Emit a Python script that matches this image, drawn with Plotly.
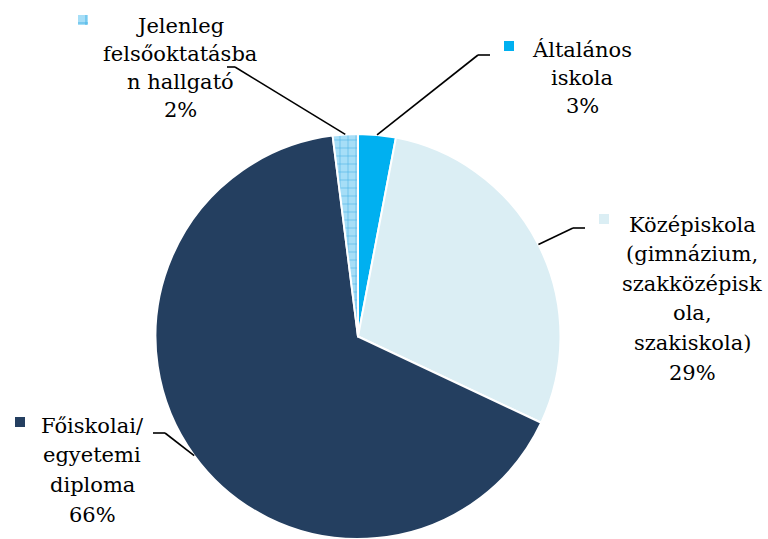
import math
import plotly.graph_objects as go

# ---- data ----
categories = [
    "Általános iskola",
    "Középiskola (gimnázium, szakközépiskola, szakiskola)",
    "Főiskolai/ egyetemi diploma",
    "Jelenleg felsőoktatásban hallgató",
]
values = [3, 29, 66, 2]
pct_labels = ["3%", "29%", "66%", "2%"]
label_lines = [
    ["Általános", "iskola"],
    ["Középiskola", "(gimnázium,", "szakközépisk", "ola,", "szakiskola)"],
    ["Főiskolai/", "egyetemi", "diploma"],
    ["Jelenleg", "felsőoktatásba", "n hallgató"],
]
colors = ["#00B0F0", "#DBEEF4", "#243F60", "#A6DEF7"]

# ---- layout geometry (pixels) ----
W, H = 768, 539
pie_left, pie_right, pie_top = 155, 561, 134
R = min(pie_right - pie_left, H - pie_top) / 2.0
CX = (pie_left + pie_right) / 2.0
CY = H - R

FONT = "DejaVu Serif"
FS = 21

# per-label placement: text centre x, first baseline, line step, key box, leader start & elbow
placements = [
    dict(cx=582, base=57, step=28, key=(504, 41), lead=((490, 55), (478, 55))),
    dict(cx=692, base=232, step=29.6, key=(599, 214), lead=((585, 228), (573, 228))),
    dict(cx=92, base=433, step=29.7, key=(15, 417), lead=((153, 433), (165, 433))),
    dict(cx=180, base=33, step=28, key=(78, 15), lead=((227, 67), (235, 67))),
]


def px(x):
    return x / W


def py(y):
    return 1 - y / H


fig = go.Figure(
    go.Pie(
        labels=categories,
        values=values,
        sort=False,
        direction="clockwise",
        rotation=0,
        textinfo="none",
        hoverinfo="label+percent",
        showlegend=False,
        domain=dict(x=[px(pie_left), px(pie_right)], y=[0, py(pie_top)]),
        marker=dict(
            colors=colors,
            line=dict(color="white", width=2),
            pattern=dict(
                shape=["", "", "", "+"],
                fgcolor=["#00B0F0", "#DBEEF4", "#243F60", "#4DB5E6"],
                bgcolor=colors,
                size=8,
                solidity=0.15,
            ),
        ),
    )
)

annotations = []
shapes = []
total = sum(values)
cum = 0
for i, v in enumerate(values):
    mid = 2 * math.pi * (cum + v / 2.0) / total
    cum += v
    ex = CX + R * math.sin(mid)
    ey = CY - R * math.cos(mid)
    p = placements[i]
    lines = label_lines[i] + [pct_labels[i]]
    for j, t in enumerate(lines):
        b = p["base"] + j * p["step"]
        annotations.append(dict(
            x=px(p["cx"]), y=py(b - 0.35 * FS), xref="paper", yref="paper",
            text=t, showarrow=False, xanchor="center", yanchor="middle",
            font=dict(family=FONT, size=FS, color="black"),
        ))
    kx, ky = p["key"]
    shapes.append(dict(type="rect", xref="paper", yref="paper",
                       x0=px(kx), x1=px(kx + 10), y0=py(ky), y1=py(ky + 10),
                       fillcolor=colors[i], line=dict(width=0)))
    if i == 3:
        shapes.append(dict(type="line", xref="paper", yref="paper",
                           x0=px(kx + 8), x1=px(kx + 8), y0=py(ky), y1=py(ky + 10),
                           line=dict(color="#4DB5E6", width=1)))
        shapes.append(dict(type="line", xref="paper", yref="paper",
                           x0=px(kx), x1=px(kx + 10), y0=py(ky + 8), y1=py(ky + 8),
                           line=dict(color="#4DB5E6", width=1)))
    (sx, sy), (bx, by) = p["lead"]
    shapes.append(dict(type="line", xref="paper", yref="paper",
                       x0=px(sx), y0=py(sy), x1=px(bx), y1=py(by),
                       line=dict(color="black", width=1.6)))
    shapes.append(dict(type="line", xref="paper", yref="paper",
                       x0=px(bx), y0=py(by), x1=px(ex), y1=py(ey),
                       line=dict(color="black", width=1.6)))

fig.update_layout(
    width=W, height=H,
    margin=dict(l=0, r=0, t=0, b=0),
    paper_bgcolor="white", plot_bgcolor="white",
    font=dict(family=FONT),
    annotations=annotations,
    shapes=shapes,
)

fig.write_html(
    "out.html",
    config={"displayModeBar": False},
    post_script="document.body.style.margin='0';document.body.style.overflow='hidden';",
)
